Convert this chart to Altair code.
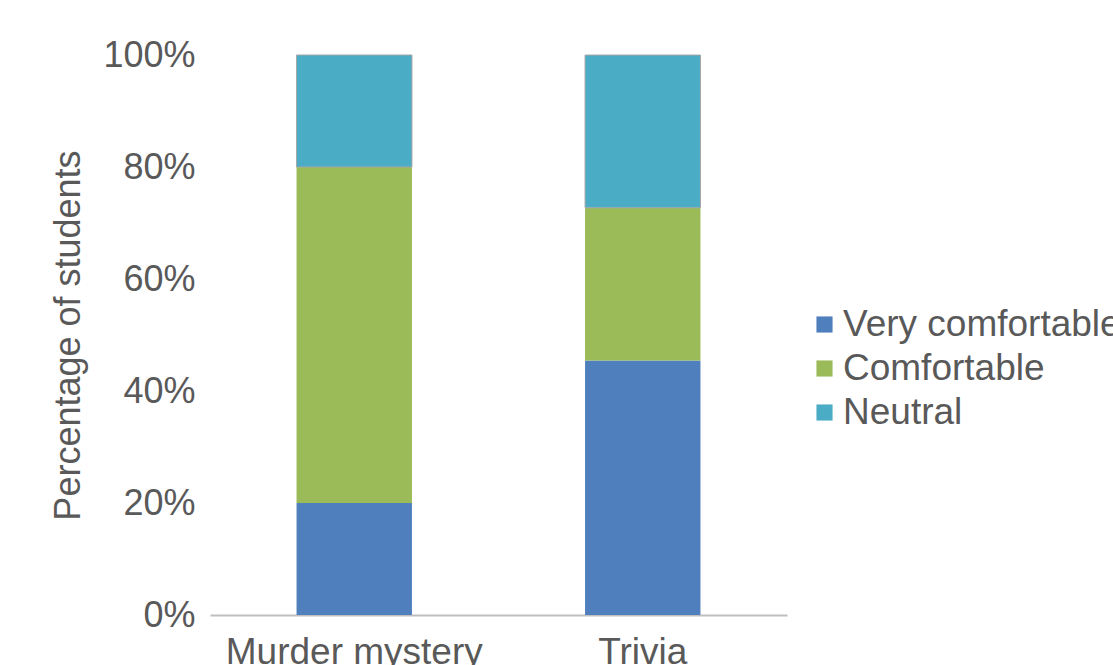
import altair as alt
import pandas as pd

activities = ["Murder mystery", "Trivia"]
levels = ["Very comfortable", "Comfortable", "Neutral"]
very_comfortable = [0.20, 0.4545]
comfortable = [0.60, 0.2727]
neutral = [0.20, 0.2727]
colors = ["#4F7FBC", "#9BBB59", "#4BACC6"]

rows = []
for i, a in enumerate(activities):
    for j, (lvl, vals) in enumerate(zip(levels, [very_comfortable, comfortable, neutral])):
        rows.append({"activity": a, "level": lvl, "value": vals[i], "order": j})
df = pd.DataFrame(rows)

FONT = "Liberation Sans"
GREY = "#595959"

chart = alt.Chart(df).mark_bar(
    strokeWidth=1,
).encode(
    x=alt.X("activity:N", sort=activities, title=None,
            scale=alt.Scale(paddingInner=0.6, paddingOuter=0.3),
            axis=alt.Axis(labelAngle=0, ticks=False, domainColor="#BFBFBF", domainWidth=2,
                          labelFontSize=37, labelColor=GREY, labelFont=FONT, labelPadding=19,
                          labelLimit=600)),
    y=alt.Y("value:Q", stack="zero", title="Percentage of students",
            scale=alt.Scale(domain=[0, 1], nice=False),
            axis=alt.Axis(values=[0, 0.2, 0.4, 0.6, 0.8, 1.0], format=".0%", grid=False,
                          domain=False, ticks=False, labelFontSize=36, labelColor=GREY,
                          labelFont=FONT, labelPadding=15, titleFontSize=36,
                          titleFont=FONT, titleColor=GREY, titleFontWeight="normal",
                          titlePadding=15)),
    color=alt.Color("level:N", sort=levels, scale=alt.Scale(domain=levels, range=colors),
                    legend=alt.Legend(title=None, orient="none", legendX=596, legendY=251,
                                      symbolType="square", symbolSize=260, symbolStrokeWidth=0,
                                      labelFontSize=37, labelColor=GREY, labelFont=FONT,
                                      labelOffset=0, rowPadding=6, labelLimit=600)),
    order=alt.Order("order:Q", sort="ascending"),
    stroke=alt.condition(alt.datum.level == "Neutral", alt.value("#A6A6A6"), alt.value(None)),
).properties(
    width=577, height=560,
    autosize=alt.AutoSizeParams(type="none"),
    padding={"left": 210, "top": 55, "right": 326, "bottom": 50},
).configure(font=FONT).configure_view(strokeWidth=0, stroke="transparent")

chart.save("out.html", embed_options={"renderer": "svg", "actions": False})
